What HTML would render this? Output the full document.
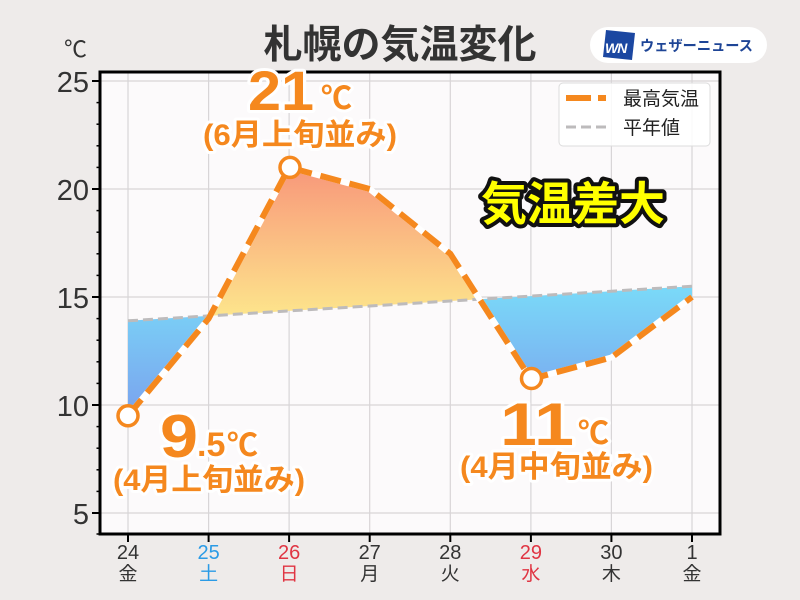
<!DOCTYPE html>
<html><head><meta charset="utf-8"><style>
html,body{margin:0;padding:0;background:#eeebea;}
svg{display:block;}
text{font-family:"Liberation Sans","Noto Sans CJK JP",sans-serif;}
</style></head><body>
<svg width="800" height="600" viewBox="0 0 800 600" xmlns="http://www.w3.org/2000/svg">
<defs>
<linearGradient id="warm" gradientUnits="userSpaceOnUse" x1="0" y1="167" x2="0" y2="316">
<stop offset="0" stop-color="#f8977a"/><stop offset="1" stop-color="#fde58c"/>
</linearGradient>
<linearGradient id="cold" gradientUnits="userSpaceOnUse" x1="0" y1="286" x2="0" y2="416">
<stop offset="0" stop-color="#7adaf8"/><stop offset="1" stop-color="#7aa2ee"/>
</linearGradient>
</defs>
<rect x="0" y="0" width="800" height="600" fill="#eeebea"/>
<rect x="100" y="72" width="620" height="462" fill="#fcfafb"/>
<g stroke="#d8d5d7" stroke-width="1.2">
<line x1="100" x2="720" y1="81" y2="81"/>
<line x1="100" x2="720" y1="189" y2="189"/>
<line x1="100" x2="720" y1="297" y2="297"/>
<line x1="100" x2="720" y1="405" y2="405"/>
<line x1="100" x2="720" y1="513" y2="513"/>
<line x1="128" x2="128" y1="72" y2="534"/>
<line x1="208.6" x2="208.6" y1="72" y2="534"/>
<line x1="289.1" x2="289.1" y1="72" y2="534"/>
<line x1="369.7" x2="369.7" y1="72" y2="534"/>
<line x1="450.3" x2="450.3" y1="72" y2="534"/>
<line x1="530.9" x2="530.9" y1="72" y2="534"/>
<line x1="611.4" x2="611.4" y1="72" y2="534"/>
<line x1="692" x2="692" y1="72" y2="534"/>
</g>
<polygon fill="url(#warm)" points="210.1,315.8 289.1,167.4 369.7,189 450.3,253.8 479.5,299.2 450.3,301 369.7,306 289.1,310.9"/>
<polygon fill="url(#cold)" points="128,415.8 208.6,318.6 210.1,315.8 208.6,315.9 128,320.8"/>
<polygon fill="url(#cold)" points="479.5,299.2 530.9,379.1 611.4,357.5 692,297 692,286.2 611.4,291.2 530.9,296.1"/>
<polyline fill="none" stroke="#bdbbbc" stroke-width="3" stroke-dasharray="10 5" points="128,320.8 208.6,315.9 289.1,310.9 369.7,306 450.3,301 530.9,296.1 611.4,291.2 692,286.2"/>
<polyline fill="none" stroke="#ffffff" stroke-width="6" stroke-linejoin="round" points="128,415.8 208.6,318.6 289.1,167.4 369.7,189 450.3,253.8 530.9,379.1 611.4,357.5 692,297"/>
<polyline fill="none" stroke="#f5881e" stroke-width="6" stroke-dasharray="21 9" points="128,415.8 208.6,318.6 289.1,167.4 369.7,189 450.3,253.8 530.9,379.1 611.4,357.5 692,297"/>
<g fill="#ffffff" stroke="#f5881e" stroke-width="3.5">
<circle cx="128" cy="415.8" r="10"/>
<circle cx="290" cy="167.4" r="10"/>
<circle cx="531.5" cy="378.5" r="10"/>
</g>
<rect x="100" y="72" width="620" height="462" fill="none" stroke="#000" stroke-width="3"/>
<g stroke="#000" stroke-width="2">
<line x1="92" x2="100" y1="81" y2="81"/>
<line x1="92" x2="100" y1="189" y2="189"/>
<line x1="92" x2="100" y1="297" y2="297"/>
<line x1="92" x2="100" y1="405" y2="405"/>
<line x1="92" x2="100" y1="513" y2="513"/>
</g>
<g stroke="#000" stroke-width="1.5">
<line x1="96.5" x2="100" y1="102.6" y2="102.6"/><line x1="96.5" x2="100" y1="124.2" y2="124.2"/><line x1="96.5" x2="100" y1="145.8" y2="145.8"/><line x1="96.5" x2="100" y1="167.4" y2="167.4"/>
<line x1="96.5" x2="100" y1="210.6" y2="210.6"/><line x1="96.5" x2="100" y1="232.2" y2="232.2"/><line x1="96.5" x2="100" y1="253.8" y2="253.8"/><line x1="96.5" x2="100" y1="275.4" y2="275.4"/>
<line x1="96.5" x2="100" y1="318.6" y2="318.6"/><line x1="96.5" x2="100" y1="340.2" y2="340.2"/><line x1="96.5" x2="100" y1="361.8" y2="361.8"/><line x1="96.5" x2="100" y1="383.4" y2="383.4"/>
<line x1="96.5" x2="100" y1="426.6" y2="426.6"/><line x1="96.5" x2="100" y1="448.2" y2="448.2"/><line x1="96.5" x2="100" y1="469.8" y2="469.8"/><line x1="96.5" x2="100" y1="491.4" y2="491.4"/>
<line x1="96.5" x2="100" y1="534" y2="534"/>
</g>
<g stroke="#000" stroke-width="2">
<line x1="128" x2="128" y1="534" y2="542"/>
<line x1="208.6" x2="208.6" y1="534" y2="542"/>
<line x1="289.1" x2="289.1" y1="534" y2="542"/>
<line x1="369.7" x2="369.7" y1="534" y2="542"/>
<line x1="450.3" x2="450.3" y1="534" y2="542"/>
<line x1="530.9" x2="530.9" y1="534" y2="542"/>
<line x1="611.4" x2="611.4" y1="534" y2="542"/>
<line x1="692" x2="692" y1="534" y2="542"/>
</g>
<g font-size="29" fill="#333" text-anchor="end">
<text x="89" y="92">25</text>
<text x="89" y="200">20</text>
<text x="89" y="308">15</text>
<text x="89" y="416">10</text>
<text x="89" y="524">5</text>
</g>
<text x="64" y="57" font-size="23" fill="#333">℃</text>
<g font-size="20" text-anchor="middle">
<text x="128" y="559" fill="#333">24</text>
<text x="208.6" y="559" fill="#2b9be6">25</text>
<text x="289.1" y="559" fill="#e03543">26</text>
<text x="369.7" y="559" fill="#333">27</text>
<text x="450.3" y="559" fill="#333">28</text>
<text x="530.9" y="559" fill="#e03543">29</text>
<text x="611.4" y="559" fill="#333">30</text>
<text x="692" y="559" fill="#333">1</text>
</g>
<g font-size="19" text-anchor="middle">
<text x="128" y="580" fill="#333">金</text>
<text x="208.6" y="580" fill="#2b9be6">土</text>
<text x="289.1" y="580" fill="#e03543">日</text>
<text x="369.7" y="580" fill="#333">月</text>
<text x="450.3" y="580" fill="#333">火</text>
<text x="530.9" y="580" fill="#e03543">水</text>
<text x="611.4" y="580" fill="#333">木</text>
<text x="692" y="580" fill="#333">金</text>
</g>
<text x="400" y="58" font-size="39" font-weight="bold" fill="#333" text-anchor="middle">札幌の気温変化</text>
<rect x="590" y="27" width="177" height="36" rx="18" fill="#ffffff"/>
<polygon points="606,30 635,33 632,60 603,57" fill="#1b47a1"/>
<text x="605" y="53" font-size="14" font-weight="bold" font-style="italic" fill="#ffffff" letter-spacing="-1">WN</text>
<text x="640" y="51" font-size="14.5" font-weight="bold" fill="#1e4596" textLength="113" lengthAdjust="spacingAndGlyphs">ウェザーニュース</text>
<rect x="559" y="83" width="151" height="63" rx="4" fill="#ffffff" fill-opacity="0.85" stroke="#dcdcdc" stroke-width="1"/>
<line x1="566" x2="606" y1="98" y2="98" stroke="#f5881e" stroke-width="6" stroke-dasharray="25 7"/>
<line x1="566" x2="606" y1="127" y2="127" stroke="#bdbbbc" stroke-width="3" stroke-dasharray="10 5"/>
<text x="623" y="105" font-size="19" fill="#222">最高気温</text>
<text x="623" y="134" font-size="19" fill="#222">平年値</text>
<g font-weight="bold" fill="#f5881e" stroke="#ffffff" stroke-width="6" stroke-linejoin="round" paint-order="stroke">
<text x="248" y="110" font-size="56" textLength="66" lengthAdjust="spacingAndGlyphs">21</text>
<text x="321" y="109" font-size="31">℃</text>
<text x="203" y="145" font-size="30" textLength="194" lengthAdjust="spacingAndGlyphs">(6月上旬並み)</text>
<text x="160" y="457" font-size="60" textLength="38" lengthAdjust="spacingAndGlyphs">9</text>
<text x="197" y="456" font-size="34">.5</text>
<text x="227" y="456" font-size="31">℃</text>
<text x="113" y="490" font-size="30" textLength="192" lengthAdjust="spacingAndGlyphs">(4月上旬並み)</text>
<text transform="translate(500,445) scale(1.2,1)" x="0" y="0" font-size="60">1</text>
<text transform="translate(534,445) scale(1.2,1)" x="0" y="0" font-size="60">1</text>
<text x="578" y="444" font-size="31">℃</text>
<text x="460" y="477" font-size="30" textLength="193" lengthAdjust="spacingAndGlyphs">(4月中旬並み)</text>
</g>
<text x="573" y="220" font-size="46" font-weight="bold" fill="#ffff00" stroke="#111" stroke-width="8" stroke-linejoin="round" paint-order="stroke" text-anchor="middle">気温差大</text>
</svg>
</body></html>
